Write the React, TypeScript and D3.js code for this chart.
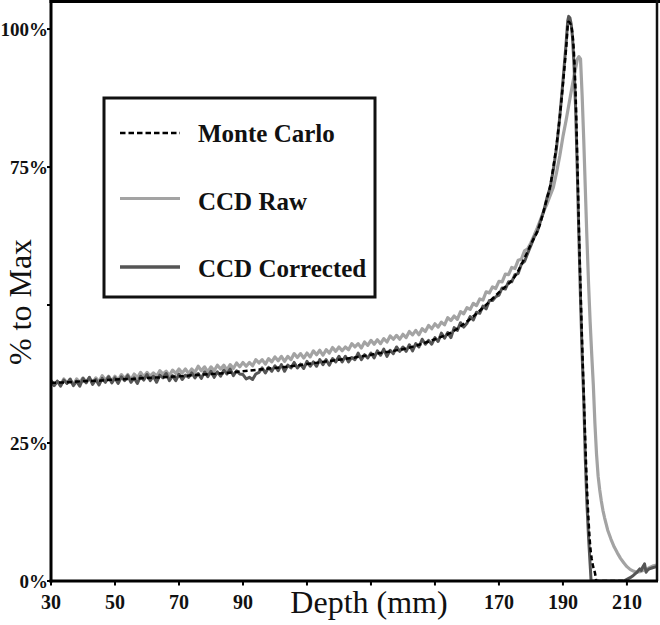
import React from "react";
import * as d3 from "d3";

// ---------- DATA ----------
const xTicks = [30, 50, 70, 90, 110, 130, 150, 170, 190, 210];
const xTickLabels = [30, 50, 70, 90, 170, 190, 210];
const yTicks = [0, 25, 50, 75, 100];
const yTickLabels = [0, 25, 75, 100];

// 1 mm grid for the noisy body of the CCD curves (30 .. 186 mm)
const bodyDepth = d3.range(30, 187);

const correctedBody = [
  36.3, 35.4, 36.2, 35.3, 36.4, 35.8, 36.6, 35.4, 36.2, 35.3,
  36.7, 35.9, 36.9, 35.6, 36.5, 35.5, 36.7, 36.0, 37.0, 35.9,
  36.8, 35.8, 37.0, 36.3, 37.2, 36.0, 36.8, 35.8, 37.1, 36.4,
  37.4, 36.3, 37.1, 36.0, 37.3, 36.8, 37.6, 36.3, 37.2, 36.3,
  37.5, 36.5, 37.3, 36.9, 37.7, 36.8, 37.6, 36.7, 37.9, 37.0,
  38.0, 36.9, 37.9, 37.1, 38.2, 37.5, 38.4, 37.2, 38.1, 37.5,
  37.4, 36.6, 36.9, 36.5, 37.5, 37.8, 38.6, 37.7, 38.7, 38.0,
  39.0, 38.1, 39.2, 38.0, 39.1, 38.6, 39.6, 38.6, 39.3, 38.5,
  39.8, 38.9, 39.7, 38.9, 40.1, 39.2, 40.1, 39.1, 40.3, 39.7,
  40.7, 39.7, 40.7, 39.7, 40.5, 40.1, 41.3, 40.1, 41.0, 40.4,
  41.3, 40.4, 41.7, 40.9, 42.0, 40.7, 41.8, 41.2, 42.4, 41.6,
  42.4, 41.6, 42.8, 41.7, 43.0, 42.4, 43.8, 42.9, 43.6, 42.9,
  44.1, 43.4, 44.9, 44.0, 45.0, 44.1, 45.9, 45.4, 46.8, 46.0,
  46.7, 47.9, 47.3, 48.7, 48.5, 49.8, 49.3, 50.8, 50.8, 51.5,
  51.8, 53.1, 52.9, 54.2, 54.2, 55.5, 55.7, 57.4, 57.9, 59.4,
  60.8, 62.3, 63.3, 65.2, 67.0, 69.4, 71.3,
];

const rawBody = [
  36.3, 35.5, 36.2, 35.5, 36.6, 35.9, 36.4, 35.6, 36.6, 36.0,
  36.8, 36.0, 36.8, 35.9, 36.8, 36.1, 37.2, 36.4, 37.1, 36.2,
  37.1, 36.4, 37.4, 36.7, 37.4, 36.5, 37.5, 36.8, 37.8, 37.0,
  37.8, 37.1, 37.7, 37.1, 38.1, 37.5, 38.0, 37.2, 38.2, 37.6,
  38.4, 37.7, 38.4, 37.6, 38.4, 37.8, 38.9, 38.1, 38.8, 37.9,
  38.8, 38.1, 39.1, 38.4, 39.1, 38.2, 39.2, 38.5, 39.5, 38.8,
  39.6, 38.9, 39.6, 39.0, 40.1, 39.5, 40.1, 39.3, 40.3, 39.7,
  40.6, 39.9, 40.7, 39.8, 40.7, 40.1, 41.2, 40.5, 41.2, 40.4,
  41.3, 40.6, 41.7, 41.0, 41.8, 40.9, 41.9, 41.3, 42.3, 41.6,
  42.4, 41.7, 42.4, 41.9, 43.0, 42.4, 43.0, 42.2, 43.3, 42.7,
  43.6, 42.9, 43.7, 43.0, 43.9, 43.3, 44.4, 43.8, 44.5, 43.8,
  44.7, 44.1, 45.2, 44.6, 45.4, 44.6, 45.7, 45.2, 46.3, 45.7,
  46.6, 46.0, 46.9, 46.4, 47.7, 47.2, 48.0, 47.4, 48.8, 48.4,
  49.5, 49.2, 50.3, 49.9, 51.1, 50.9, 52.4, 52.2, 53.3, 53.0,
  54.3, 54.2, 55.6, 55.5, 56.8, 56.6, 58.1, 58.3, 59.8, 60.2,
  61.3, 62.6, 64.0, 65.5, 67.0, 68.3, 69.8,
];

// Bragg peak and distal tail
const correctedPeakDepth = [
  187, 188, 189, 190, 190.5, 191, 191.5, 191.8, 192.2, 192.6, 193, 193.5, 194,
  194.5, 195, 195.5, 196, 196.5, 197, 197.5, 198, 198.5, 198.8, 209, 210, 211,
  212, 213, 214, 214.5, 215, 215.5, 216, 216.5, 217, 218, 219.3,
];
const correctedPeakValue = [
  74.5, 78.5, 84, 90.5, 94, 97.5, 101.5, 102.3, 102, 100.8, 98.5, 93, 85,
  74, 62, 51, 41, 33, 22, 14, 8, 3, 0, 0, 0.3, 0.6,
  1.0, 1.5, 2.2, 1.9, 2.6, 3.1, 1.6, 2.0, 2.2, 2.4, 2.6,
];

const rawPeakDepth = [
  187, 188, 189, 190, 191, 192, 193, 194, 194.5, 195, 195.5, 196, 196.5, 197,
  197.5, 198, 198.5, 199, 199.5, 200, 200.5, 201, 201.5, 202, 202.5, 203, 204,
  205, 206, 207, 208, 209, 210, 211, 212, 213, 214, 215, 216, 217, 218, 219.3,
];
const rawPeakValue = [
  71.3, 74, 77, 80.5, 83.5, 86.8, 90, 93, 94.5, 95.0, 94.6, 88, 80, 71,
  62, 54, 47, 41, 35.5, 28.5, 23, 19, 16.5, 14.5, 12.8, 11.5, 9.2,
  7.6, 6.2, 5.1, 4.1, 3.3, 2.6, 2.1, 1.8, 1.6, 1.7, 1.9, 2.1, 2.4, 2.7, 2.9,
];

const monteCarloDepth = [
  30, 35, 40, 45, 50, 55, 60, 65, 70, 75, 80, 85, 90, 95, 100, 105, 110, 115,
  120, 125, 130, 135, 140, 145, 150, 155, 160, 165, 170, 175, 180, 182.5, 185,
  186, 187, 188, 189, 190, 191, 191.7, 192.3, 193, 193.5, 194, 194.5, 195,
  195.5, 196, 196.5, 197, 197.5, 198, 198.5, 199, 199.5, 200, 200.5, 210,
];
const monteCarloValue = [
  35.9, 36.0, 36.2, 36.3, 36.5, 36.6, 36.8, 36.9, 37.1, 37.3, 37.5, 37.7, 38.0,
  38.3, 38.6, 38.9, 39.3, 39.7, 40.1, 40.5, 41.0, 41.5, 42.0, 42.8, 43.8, 45.0,
  47.0, 49.5, 52.3, 55.2, 61.0, 64.1, 69.3, 71.5, 75, 79, 84, 90, 96.5, 101.3,
  101.0, 99, 95, 87.5, 76, 64, 53, 43, 34, 25, 17, 11, 6.5, 4, 2.5, 1.5, 0, 0,
];

const legendItems = ["Monte Carlo", "CCD Raw", "CCD Corrected"];

// ---------- CHART ----------
type P = [number, number];
const zip = (xs: number[], ys: number[]): P[] => xs.map((d, i) => [d, ys[i]]);

export default function App() {
  const W = 660;
  const H = 625;
  const left = 51;
  const right = 657;
  const top = 2;
  const bottom = 581;

  const x = d3.scaleLinear().domain([30, 219.4]).range([left, right]);
  const y = d3.scaleLinear().domain([0, 104.9]).range([bottom, top]);

  const corrected = zip(bodyDepth, correctedBody).concat(zip(correctedPeakDepth, correctedPeakValue));
  const raw = zip(bodyDepth, rawBody).concat(zip(rawPeakDepth, rawPeakValue));
  const mc = zip(monteCarloDepth, monteCarloValue);

  const line = d3.line<P>().x((d) => x(d[0])).y((d) => y(d[1]));
  const smooth = d3.line<P>().x((d) => x(d[0])).y((d) => y(d[1])).curve(d3.curveMonotoneX);

  const serif = "'Liberation Serif', 'Times New Roman', serif";
  const rawColor = "#a3a3a3";
  const corrColor = "#555555";

  const legendRows = [
    { lineY: 133, textY: 142, color: "#000", dash: "5.5,3", width: 2.5 },
    { lineY: 198.5, textY: 210, color: rawColor, dash: undefined, width: 3 },
    { lineY: 267, textY: 277, color: corrColor, dash: undefined, width: 3.5 },
  ];

  return (
    <svg
      width={W}
      height={H}
      style={{ position: "absolute", left: 0, top: 0, background: "#fff" }}
    >
      <defs>
        <clipPath id="plot">
          <rect x={left} y={top} width={right - left} height={bottom - top} />
        </clipPath>
      </defs>
      <rect x={0} y={0} width={W} height={H} fill="#fff" />

      {/* curves */}
      <g clipPath="url(#plot)" fill="none" strokeLinejoin="round">
        <path d={line(raw) || ""} stroke={rawColor} strokeWidth={3.2} />
        <path d={line(corrected) || ""} stroke={corrColor} strokeWidth={3} />
        <path d={smooth(mc) || ""} stroke="#000" strokeWidth={2.5} strokeDasharray="5,3" />
      </g>

      {/* frame & axes */}
      <line x1={left - 1.5} x2={W} y1={1.5} y2={1.5} stroke="#000" strokeWidth={3} />
      <line x1={right} x2={right} y1={0} y2={bottom} stroke="#111" strokeWidth={2.5} />
      <line x1={left} x2={left} y1={0} y2={bottom + 1.5} stroke="#000" strokeWidth={3} />
      <line x1={left - 1.5} x2={right + 1} y1={bottom} y2={bottom} stroke="#000" strokeWidth={3} />

      {yTicks.map((t) => (
        <line key={"yt" + t} x1={left - 4} x2={left} y1={y(t)} y2={y(t)} stroke="#000" strokeWidth={2} />
      ))}
      {xTicks.map((t) => (
        <line key={"xt" + t} x1={x(t)} x2={x(t)} y1={bottom} y2={bottom + 4.5} stroke="#000" strokeWidth={2} />
      ))}

      {yTickLabels.map((t) => (
        <text
          key={"yl" + t}
          x={left - 3}
          y={y(t) + 7}
          textAnchor="end"
          fontFamily={serif}
          fontWeight="bold"
          fontSize={19}
          fill="#111"
        >
          {t + "%"}
        </text>
      ))}
      {xTickLabels.map((t) => (
        <text
          key={"xl" + t}
          x={x(t)}
          y={609}
          textAnchor="middle"
          fontFamily={serif}
          fontWeight="bold"
          fontSize={20}
          fill="#111"
        >
          {t}
        </text>
      ))}

      <text x={369} y={613} textAnchor="middle" fontFamily={serif} fontSize={32} fill="#111">
        Depth (mm)
      </text>
      <text
        transform="translate(31,302) rotate(-90)"
        textAnchor="middle"
        fontFamily={serif}
        fontSize={32}
        fill="#111"
      >
        % to Max
      </text>

      {/* legend */}
      <rect x={104} y={98} width={271} height={199} fill="#fff" stroke="#111" strokeWidth={3} />
      {legendItems.map((name, i) => {
        const r = legendRows[i];
        return (
          <g key={name}>
            <line
              x1={120}
              x2={180}
              y1={r.lineY}
              y2={r.lineY}
              stroke={r.color}
              strokeWidth={r.width}
              strokeDasharray={r.dash}
            />
            <text x={198} y={r.textY} fontFamily={serif} fontWeight="bold" fontSize={25} fill="#111">
              {name}
            </text>
          </g>
        );
      })}
    </svg>
  );
}
